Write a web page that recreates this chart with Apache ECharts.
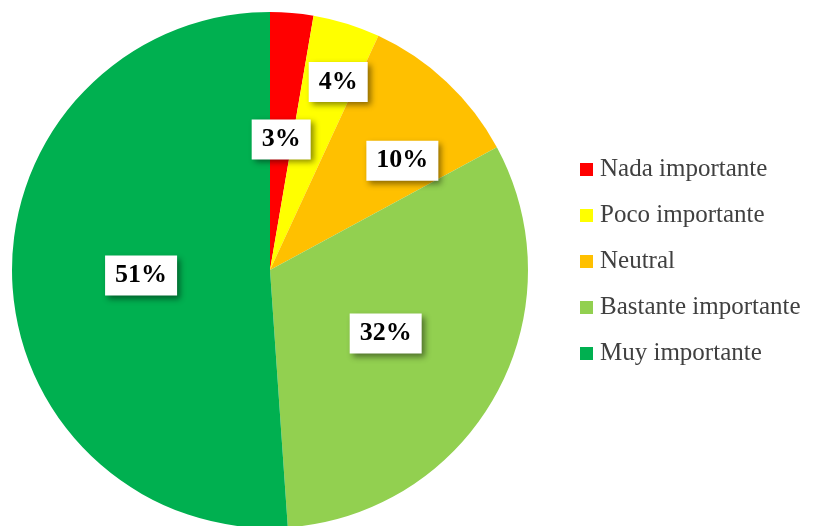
<!DOCTYPE html>
<html><head><meta charset="utf-8">
<script src="https://cdn.jsdelivr.net/npm/echarts@6/dist/echarts.min.js"></script>
<style>html,body{margin:0;padding:0;background:#fff}#c{width:816px;height:526px}</style>
</head><body><div id="c"></div>
<script>
var categories = ['Nada importante', 'Poco importante', 'Neutral', 'Bastante importante', 'Muy importante'];
var values = [2.7, 4.2, 10.2, 31.8, 51.1];
var colors = ['#FF0000', '#FFFF00', '#FFC000', '#92D050', '#00B050'];
var labelShift = [[0, 1], [29, -62], [42, -13], [0, 0], [3, 1]];

var chart = echarts.init(document.getElementById('c'), null, {renderer: 'canvas'});
chart.setOption({
  animation: false,
  backgroundColor: '#fff',
  color: colors,
  legend: {
    orient: 'vertical',
    left: 575,
    top: 152,
    padding: 5,
    icon: 'rect',
    itemWidth: 13,
    itemHeight: 13,
    itemGap: 21,
    textStyle: {fontFamily: 'Liberation Serif', fontSize: 25, lineHeight: 24, color: '#404040', padding: [0, 0, 0, 2]},
    data: categories
  },
  series: [{
    type: 'pie',
    center: [270, 270],
    radius: 258,
    startAngle: 90,
    clockwise: true,
    avoidLabelOverlap: false,
    data: categories.map(function (c, i) { return {name: c, value: values[i]}; }),
    label: {
      show: true,
      position: 'inside',
      formatter: function (p) { return Math.round(p.percent) + '%'; },
      fontFamily: 'Liberation Serif',
      fontWeight: 'bold',
      fontSize: 26,
      color: '#000',
      backgroundColor: '#fff',
      padding: [8, 10, 6, 10],
      shadowColor: 'rgba(0,0,0,0.45)',
      shadowBlur: 6,
      shadowOffsetX: 3,
      shadowOffsetY: 3
    },
    labelLine: {show: false},
    labelLayout: function (p) {
      var s = labelShift[p.dataIndex];
      return {dx: s[0], dy: s[1]};
    },
    emphasis: {disabled: true}
  }]
});
</script>
</body></html>
